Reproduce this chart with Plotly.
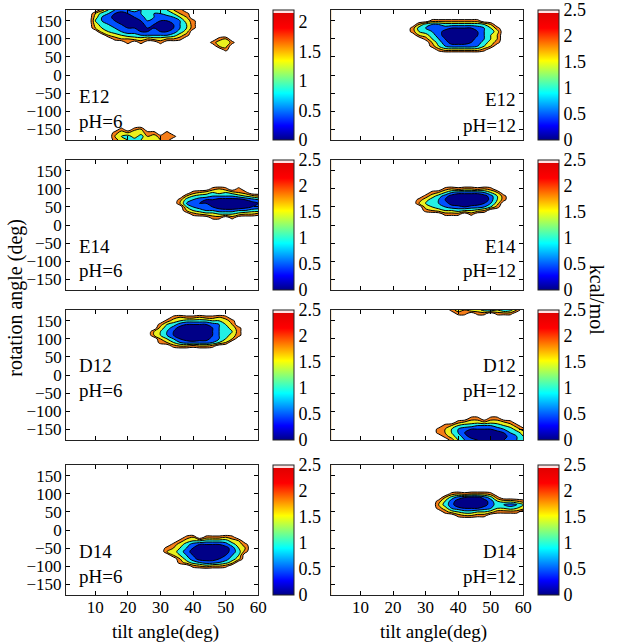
import plotly.graph_objects as go

# ---------------- data: free-energy grids (kcal/mol) ----------------
# each row string: one rotation angle, columns = tilt angles
# digit d -> 0.25*d kcal/mol ; '.' -> unsampled (above top level)

E12_PH6_A_TILT = [8, 10, 12, 14, 16, 18, 20, 22, 24, 26, 28, 30, 32, 34, 36, 38, 40, 42]
E12_PH6_A_ROT = [180, 170, 160, 150, 140, 130, 120, 110, 100, 90, 80]
E12_PH6_A_ROWS = [
    ". . 9 6 4 3 4 5 4 5 6 5 6 8 9 . . .",
    ". 8 5 4 2 1 2 3 4 5 4 4 5 6 8 9 . .",
    ". 7 4 3 1 1 1 2 3 5 4 3 3 4 6 8 . .",
    ". 6 4 3 2 1 1 1 2 4 3 2 2 3 4 7 9 .",
    ". 7 5 4 3 2 1 1 1 3 2 2 2 2 4 6 9 .",
    ". 8 6 5 4 3 2 2 1 2 2 2 1 2 4 6 9 .",
    ". . 7 6 5 4 3 3 2 2 3 2 2 3 5 7 . .",
    ". . . 8 7 6 5 5 4 4 4 4 4 5 7 9 . .",
    ". . . . 9 8 8 7 7 8 7 7 8 8 9 . . .",
    ". . . . . . 9 . 9 . . 9 . . . . . .",
    ". . . . . . . . . . . . . . . . . .",
]
E12_PH6_B_TILT = [12, 14, 16, 18, 20, 22, 24, 26, 28, 30, 32, 34, 36]
E12_PH6_B_ROT = [-140, -150, -160, -170, -180]
E12_PH6_B_ROWS = [
    ". . . . . . . . . . . . .",
    ". . . 9 . 9 8 . . . . . .",
    ". . 9 7 8 6 7 9 9 . 9 . .",
    ". . 8 6 5 7 5 8 7 9 8 9 .",
    ". . 9 7 6 5 6 7 8 8 9 . .",
]
E12_PH6_C_TILT = [44, 46, 48, 50, 52, 54]
E12_PH6_C_ROT = [110, 100, 90, 80, 70, 60]
E12_PH6_C_ROWS = [
    ". . . . . .",
    ". . 9 8 . .",
    ". 9 7 6 9 .",
    ". . 8 7 . .",
    ". . . 9 . .",
    ". . . . . .",
]

E12_PH12_TILT = [24, 26, 28, 30, 32, 34, 36, 38, 40, 42, 44, 46, 48, 50, 52, 54, 56]
E12_PH12_ROT = [160, 150, 140, 130, 120, 110, 100, 90, 80, 70, 60]
E12_PH12_ROWS = [
    ". . . . . . . . . . . . . . . . .",
    ". . . . 9 9 9 9 9 9 9 9 . . . . .",
    ". . 8 5 4 4 5 5 5 5 5 5 6 8 . . .",
    ". 9 5 4 4 4 3 2 2 2 2 3 4 6 9 . .",
    ". 9 6 5 4 3 1 0 0 0 1 2 4 5 7 . .",
    ". . 8 7 5 3 1 0 0 0 1 2 4 6 8 . .",
    ". . . 9 6 4 2 0 0 0 1 3 4 6 8 . .",
    ". . . . 8 5 3 1 1 1 2 3 5 7 9 . .",
    ". . . . 9 6 4 3 3 3 3 4 6 8 . . .",
    ". . . . . 9 7 7 7 7 7 7 9 . . . .",
    ". . . . . . . . . . . . . . . . .",
]

E14_PH6_TILT = [34, 36, 38, 40, 42, 44, 46, 48, 50, 52, 54, 56, 58, 60]
E14_PH6_ROT = [110, 100, 90, 80, 70, 60, 50, 40, 30, 20, 10]
E14_PH6_ROWS = [
    ". . . . . . . . . . . . . .",
    ". . . . . . 9 8 9 . 9 . . .",
    ". . . 9 8 7 6 7 6 7 8 9 . .",
    ". . 8 6 5 5 4 4 4 4 5 6 7 8",
    ". 9 5 4 3 2 2 1 1 1 1 2 3 4",
    ". 8 4 3 2 2 1 0 0 0 0 0 1 2",
    ". . 6 4 3 3 2 1 0 0 0 1 2 3",
    ". . 8 6 5 4 4 3 3 3 4 4 5 5",
    ". . . 9 8 7 7 6 6 6 7 8 8 9",
    ". . . . . . 9 9 . 9 . . . .",
    ". . . . . . . . . . . . . .",
]

E14_PH12_TILT = [26, 28, 30, 32, 34, 36, 38, 40, 42, 44, 46, 48, 50, 52, 54, 56]
E14_PH12_ROT = [110, 100, 90, 80, 70, 60, 50, 40, 30, 20]
E14_PH12_ROWS = [
    ". . . . . . . . . . . . . . . .",
    ". . . . . 9 8 9 8 8 9 8 9 . . .",
    ". . . 9 8 6 4 3 3 3 3 4 6 8 . .",
    ". . 9 7 5 3 1 0 0 0 0 1 3 6 9 .",
    ". 9 7 5 4 2 0 0 0 0 0 0 3 6 9 .",
    ". 8 6 6 4 3 1 0 0 0 1 2 4 7 . .",
    ". . 7 6 5 4 3 3 2 3 3 4 6 9 . .",
    ". . 9 8 7 6 6 5 6 6 7 8 . . . .",
    ". . . . . 9 9 9 . 9 . . . . . .",
    ". . . . . . . . . . . . . . . .",
]

D12_PH6_TILT = [26, 28, 30, 32, 34, 36, 38, 40, 42, 44, 46, 48, 50, 52, 54, 56]
D12_PH6_ROT = [170, 160, 150, 140, 130, 120, 110, 100, 90, 80, 70]
D12_PH6_ROWS = [
    ". . . . . . . . . . . . . . . .",
    ". . . . 9 8 9 9 8 9 9 8 9 . . .",
    ". . . 9 7 6 5 5 5 5 6 6 7 9 . .",
    ". . 9 6 5 3 2 2 2 2 3 4 6 8 . .",
    ". . 7 5 3 1 0 0 0 1 2 4 5 7 9 .",
    ". 8 6 4 2 0 0 0 0 0 2 4 5 6 9 .",
    ". 8 6 4 2 1 0 0 0 1 2 4 5 7 9 .",
    ". . 8 6 4 2 1 0 1 1 3 4 6 8 . .",
    ". . 9 8 6 4 3 3 3 3 4 6 8 . . .",
    ". . . . 9 8 8 9 8 8 9 . . . . .",
    ". . . . . . . . . . . . . . . .",
]

D12_PH12_A_TILT = [36, 38, 40, 42, 44, 46, 48, 50, 52, 54, 56, 58, 60]
D12_PH12_A_ROT = [160, 170, 180]
D12_PH12_A_ROWS = [
    ". . . . . . . . . . . . .",
    ". . 9 9 . 9 9 . 9 9 9 . .",
    ". 9 7 8 6 7 5 4 6 4 5 8 .",
]
D12_PH12_B_TILT = [30, 32, 34, 36, 38, 40, 42, 44, 46, 48, 50, 52, 54, 56, 58, 60]
D12_PH12_B_ROT = [-110, -120, -130, -140, -150, -160, -170, -180]
D12_PH12_B_ROWS = [
    ". . . . . . . . . . . . . . . .",
    ". . . . . . . 9 9 . 9 9 . . . .",
    ". . . . . 9 8 7 7 8 7 7 8 9 . .",
    ". . . 9 8 6 5 5 4 4 4 5 6 7 9 .",
    ". . 9 8 6 4 3 2 2 2 2 3 4 5 7 9",
    ". . 9 8 6 4 2 1 0 0 0 1 2 4 5 7",
    ". . . 9 7 5 3 1 0 0 0 0 1 3 4 6",
    ". . . . 9 6 4 3 2 2 2 2 2 3 4 6",
]

D14_PH6_TILT = [30, 32, 34, 36, 38, 40, 42, 44, 46, 48, 50, 52, 54, 56, 58]
D14_PH6_ROT = [-10, -20, -30, -40, -50, -60, -70, -80, -90, -100, -110]
D14_PH6_ROWS = [
    ". . . . . . . . . . . . . . .",
    ". . . . 9 8 . 9 9 9 8 9 . . .",
    ". . . 9 7 6 6 5 5 5 5 7 8 . .",
    ". . 9 7 5 3 2 2 2 2 3 5 7 9 .",
    ". 9 8 6 4 2 0 0 0 0 1 3 6 8 .",
    ". 8 7 5 3 1 0 0 0 0 1 3 5 9 .",
    ". . 8 6 4 2 0 0 0 0 2 4 6 . .",
    ". . . 8 5 3 1 1 1 2 3 5 7 . .",
    ". . . 9 7 5 4 3 3 4 5 7 . . .",
    ". . . . . 9 8 7 8 8 9 . . . .",
    ". . . . . . . . . . . . . . .",
]

D14_PH12_TILT = [32, 34, 36, 38, 40, 42, 44, 46, 48, 50, 52, 54, 56, 58, 60]
D14_PH12_ROT = [110, 100, 90, 80, 70, 60, 50, 40, 30]
D14_PH12_ROWS = [
    ". . . . . . . . . . . . . . .",
    ". . . 9 8 9 8 8 8 9 . . . . .",
    ". . 8 5 3 2 1 1 3 5 9 . . . .",
    ". 9 6 3 1 0 0 0 1 3 6 7 7 8 9",
    ". 8 5 3 0 0 0 0 1 3 5 4 3 4 6",
    ". 9 7 4 3 2 2 2 3 4 6 6 5 6 7",
    ". . 9 7 6 5 5 6 6 7 9 9 9 9 .",
    ". . . . 9 8 8 9 9 . . . . . .",
    ". . . . . . . . . . . . . . .",
]

LABELS = ["E12", "E12", "E14", "E14", "D12", "D12", "D14", "D14"]
PH_LABELS = ["pH=6", "pH=12", "pH=6", "pH=12", "pH=6", "pH=12", "pH=6", "pH=12"]
CBAR_MAX = [2.2, 2.5, 2.5, 2.5, 2.5, 2.5, 2.5, 2.5]
CBAR_TICKS_STD = [0, 0.5, 1, 1.5, 2, 2.5]
CBAR_TICKS_P1 = [0, 0.5, 1, 1.5, 2]
X_TICKS = [10, 20, 30, 40, 50, 60]
Y_TICKS = [-150, -100, -50, 0, 50, 100, 150]
X_RANGE = [1, 60]
Y_RANGE = [-180, 180]
LEVELS = dict(start=0.5, end=2.5, size=0.5)
EMPTY = 3.0

PANEL_GRIDS = [
    [(E12_PH6_A_TILT, E12_PH6_A_ROT, E12_PH6_A_ROWS),
     (E12_PH6_B_TILT, E12_PH6_B_ROT, E12_PH6_B_ROWS),
     (E12_PH6_C_TILT, E12_PH6_C_ROT, E12_PH6_C_ROWS)],
    [(E12_PH12_TILT, E12_PH12_ROT, E12_PH12_ROWS)],
    [(E14_PH6_TILT, E14_PH6_ROT, E14_PH6_ROWS)],
    [(E14_PH12_TILT, E14_PH12_ROT, E14_PH12_ROWS)],
    [(D12_PH6_TILT, D12_PH6_ROT, D12_PH6_ROWS)],
    [(D12_PH12_A_TILT, D12_PH12_A_ROT, D12_PH12_A_ROWS),
     (D12_PH12_B_TILT, D12_PH12_B_ROT, D12_PH12_B_ROWS)],
    [(D14_PH6_TILT, D14_PH6_ROT, D14_PH6_ROWS)],
    [(D14_PH12_TILT, D14_PH12_ROT, D14_PH12_ROWS)],
]

# ---------------- styling ----------------
W, H = 621, 644
FONT = "Liberation Serif"
NAVY, BLUE, CYAN = "rgb(0,0,135)", "rgb(0,80,255)", "rgb(35,240,230)"
YELLOW, ORANGE, WHITE = "rgb(235,240,30)", "rgb(245,125,25)", "rgb(255,255,255)"
BAND_SCALE = [[0, NAVY], [0.1, NAVY], [0.1, BLUE], [0.3, BLUE], [0.3, CYAN], [0.5, CYAN],
              [0.5, YELLOW], [0.7, YELLOW], [0.7, ORANGE], [0.9, ORANGE], [0.9, WHITE], [1, WHITE]]
JET_SCALE = [[0, "rgb(0,0,135)"], [0.11, "rgb(0,0,255)"], [0.36, "rgb(0,255,255)"],
             [0.61, "rgb(255,255,0)"], [0.86, "rgb(255,0,0)"], [0.975, "rgb(225,0,0)"],
             [0.975, "rgb(255,225,225)"], [1, "rgb(255,225,225)"]]

# positions in window pixels
COL_X = [(67, 262), (336, 531)]
CBAR_X = [277, 546]
ROW_TOP = [10, 160, 310, 465]
PH_H = 130


def px(xw):
    return xw / W


def py(yw):
    return 1 - yw / H


def decode(rows):
    return [[EMPTY if c == "." else 0.25 * int(c) for c in r.split()] for r in rows]


def build_grid(parts):
    """Merge the sampled patches of one panel onto one grid spanning the axes."""
    cells = {}
    for tilt, rot, rows in parts:
        z = decode(rows)
        for ri, r in enumerate(rot):
            for ci, t in enumerate(tilt):
                cells[(t, r)] = z[ri][ci]
    xs = sorted(set(X_RANGE + [t for t, _ in cells]))
    ys = sorted(set(Y_RANGE + [r for _, r in cells]))
    zz = [[cells.get((t, r), EMPTY) for t in xs] for r in ys]
    return xs, ys, zz


fig = go.Figure()
layout = dict(width=W, height=H, margin=dict(l=0, r=0, t=0, b=0, pad=0),
              paper_bgcolor="white", plot_bgcolor="white", showlegend=False,
              font=dict(family=FONT, size=17, color="black"))
annotations = []

for i in range(8):
    row, col = i // 2, i % 2
    n = i + 1
    xa = "x" if n == 1 else f"x{n}"
    ya = "y" if n == 1 else f"y{n}"
    x0, x1 = COL_X[col]
    top = ROW_TOP[row]
    bot = top + PH_H
    layout["xaxis" if n == 1 else f"xaxis{n}"] = dict(
        domain=[px(x0), px(x1)], range=X_RANGE, anchor=ya,
        tickvals=X_TICKS, ticks="inside", ticklen=4, tickcolor="black",
        mirror="ticks", showline=True, linecolor="#222", linewidth=1,
        showgrid=False, zeroline=False, showticklabels=(row == 3),
        ticklabelstandoff=-3,
        tickfont=dict(size=17, family=FONT))
    layout["yaxis" if n == 1 else f"yaxis{n}"] = dict(
        domain=[py(bot), py(top)], range=Y_RANGE, anchor=xa,
        tickvals=Y_TICKS, ticks="inside", ticklen=4, tickcolor="black",
        mirror="ticks", showline=True, linecolor="#222", linewidth=1,
        showgrid=False, zeroline=False, showticklabels=(col == 0),
        tickfont=dict(size=17, family=FONT))

    xs, ys, zz = build_grid(PANEL_GRIDS[i])
    fig.add_trace(go.Contour(
        x=xs, y=ys, z=zz, xaxis=xa, yaxis=ya,
        autocontour=False, contours=dict(coloring="fill", showlines=True, **LEVELS),
        colorscale=BAND_SCALE, showscale=False,
        line=dict(color="black", width=1), hoverinfo="skip"))

    cmax = CBAR_MAX[i]
    ticks = CBAR_TICKS_P1 if i == 0 else CBAR_TICKS_STD
    fig.add_trace(go.Scatter(
        x=[None], y=[None], xaxis=xa, yaxis=ya, mode="markers", hoverinfo="skip",
        marker=dict(color=[0], cmin=0, cmax=cmax, colorscale=JET_SCALE, showscale=True,
                    colorbar=dict(x=px(CBAR_X[col]), xanchor="left", xpad=0, ypad=0,
                                  y=py(top + PH_H / 2), yanchor="middle",
                                  len=PH_H / H, lenmode="fraction",
                                  thickness=21, thicknessmode="pixels",
                                  outlinewidth=1, outlinecolor="#222",
                                  tickvals=ticks, ticktext=[f"{t:g}" for t in ticks],
                                  ticks="", tickfont=dict(size=18, family=FONT)))))

    if row == 2:
        ly1, ly2 = top + 55, top + 80
    elif row == 0 and col == 1:
        ly1, ly2 = top + 90, top + 115
    else:
        ly1, ly2 = top + 86, top + 111
    if col == 0:
        lx, anchor = 78, "left"
    else:
        lx, anchor = 526, "right"
    for txt, yy in ((LABELS[i], ly1), (PH_LABELS[i], ly2)):
        annotations.append(dict(text=txt, x=px(lx), y=py(yy), xref="paper", yref="paper",
                                xanchor=anchor, yanchor="middle", showarrow=False,
                                font=dict(size=19, family=FONT)))

for cx in (168, 440):
    annotations.append(dict(text="tilt angle(deg)", x=px(cx), y=py(632), xref="paper",
                            yref="paper", xanchor="center", yanchor="middle", showarrow=False,
                            font=dict(size=19, family=FONT)))
annotations.append(dict(text="rotation angle (deg)", x=px(16), y=py(298), xref="paper",
                        yref="paper", xanchor="center", yanchor="middle", showarrow=False,
                        textangle=-90, font=dict(size=20, family=FONT)))
annotations.append(dict(text="kcal/mol", x=px(606), y=py(300), xref="paper",
                        yref="paper", xanchor="center", yanchor="middle", showarrow=False,
                        textangle=90, font=dict(size=20, family=FONT)))
layout["annotations"] = annotations
fig.update_layout(**layout)
# remove the default page margin so the figure fills the window exactly; no modebar
fig.write_html("out.html",
               config={"displayModeBar": False},
               post_script="document.body.style.margin='0';document.body.style.overflow='hidden';")
